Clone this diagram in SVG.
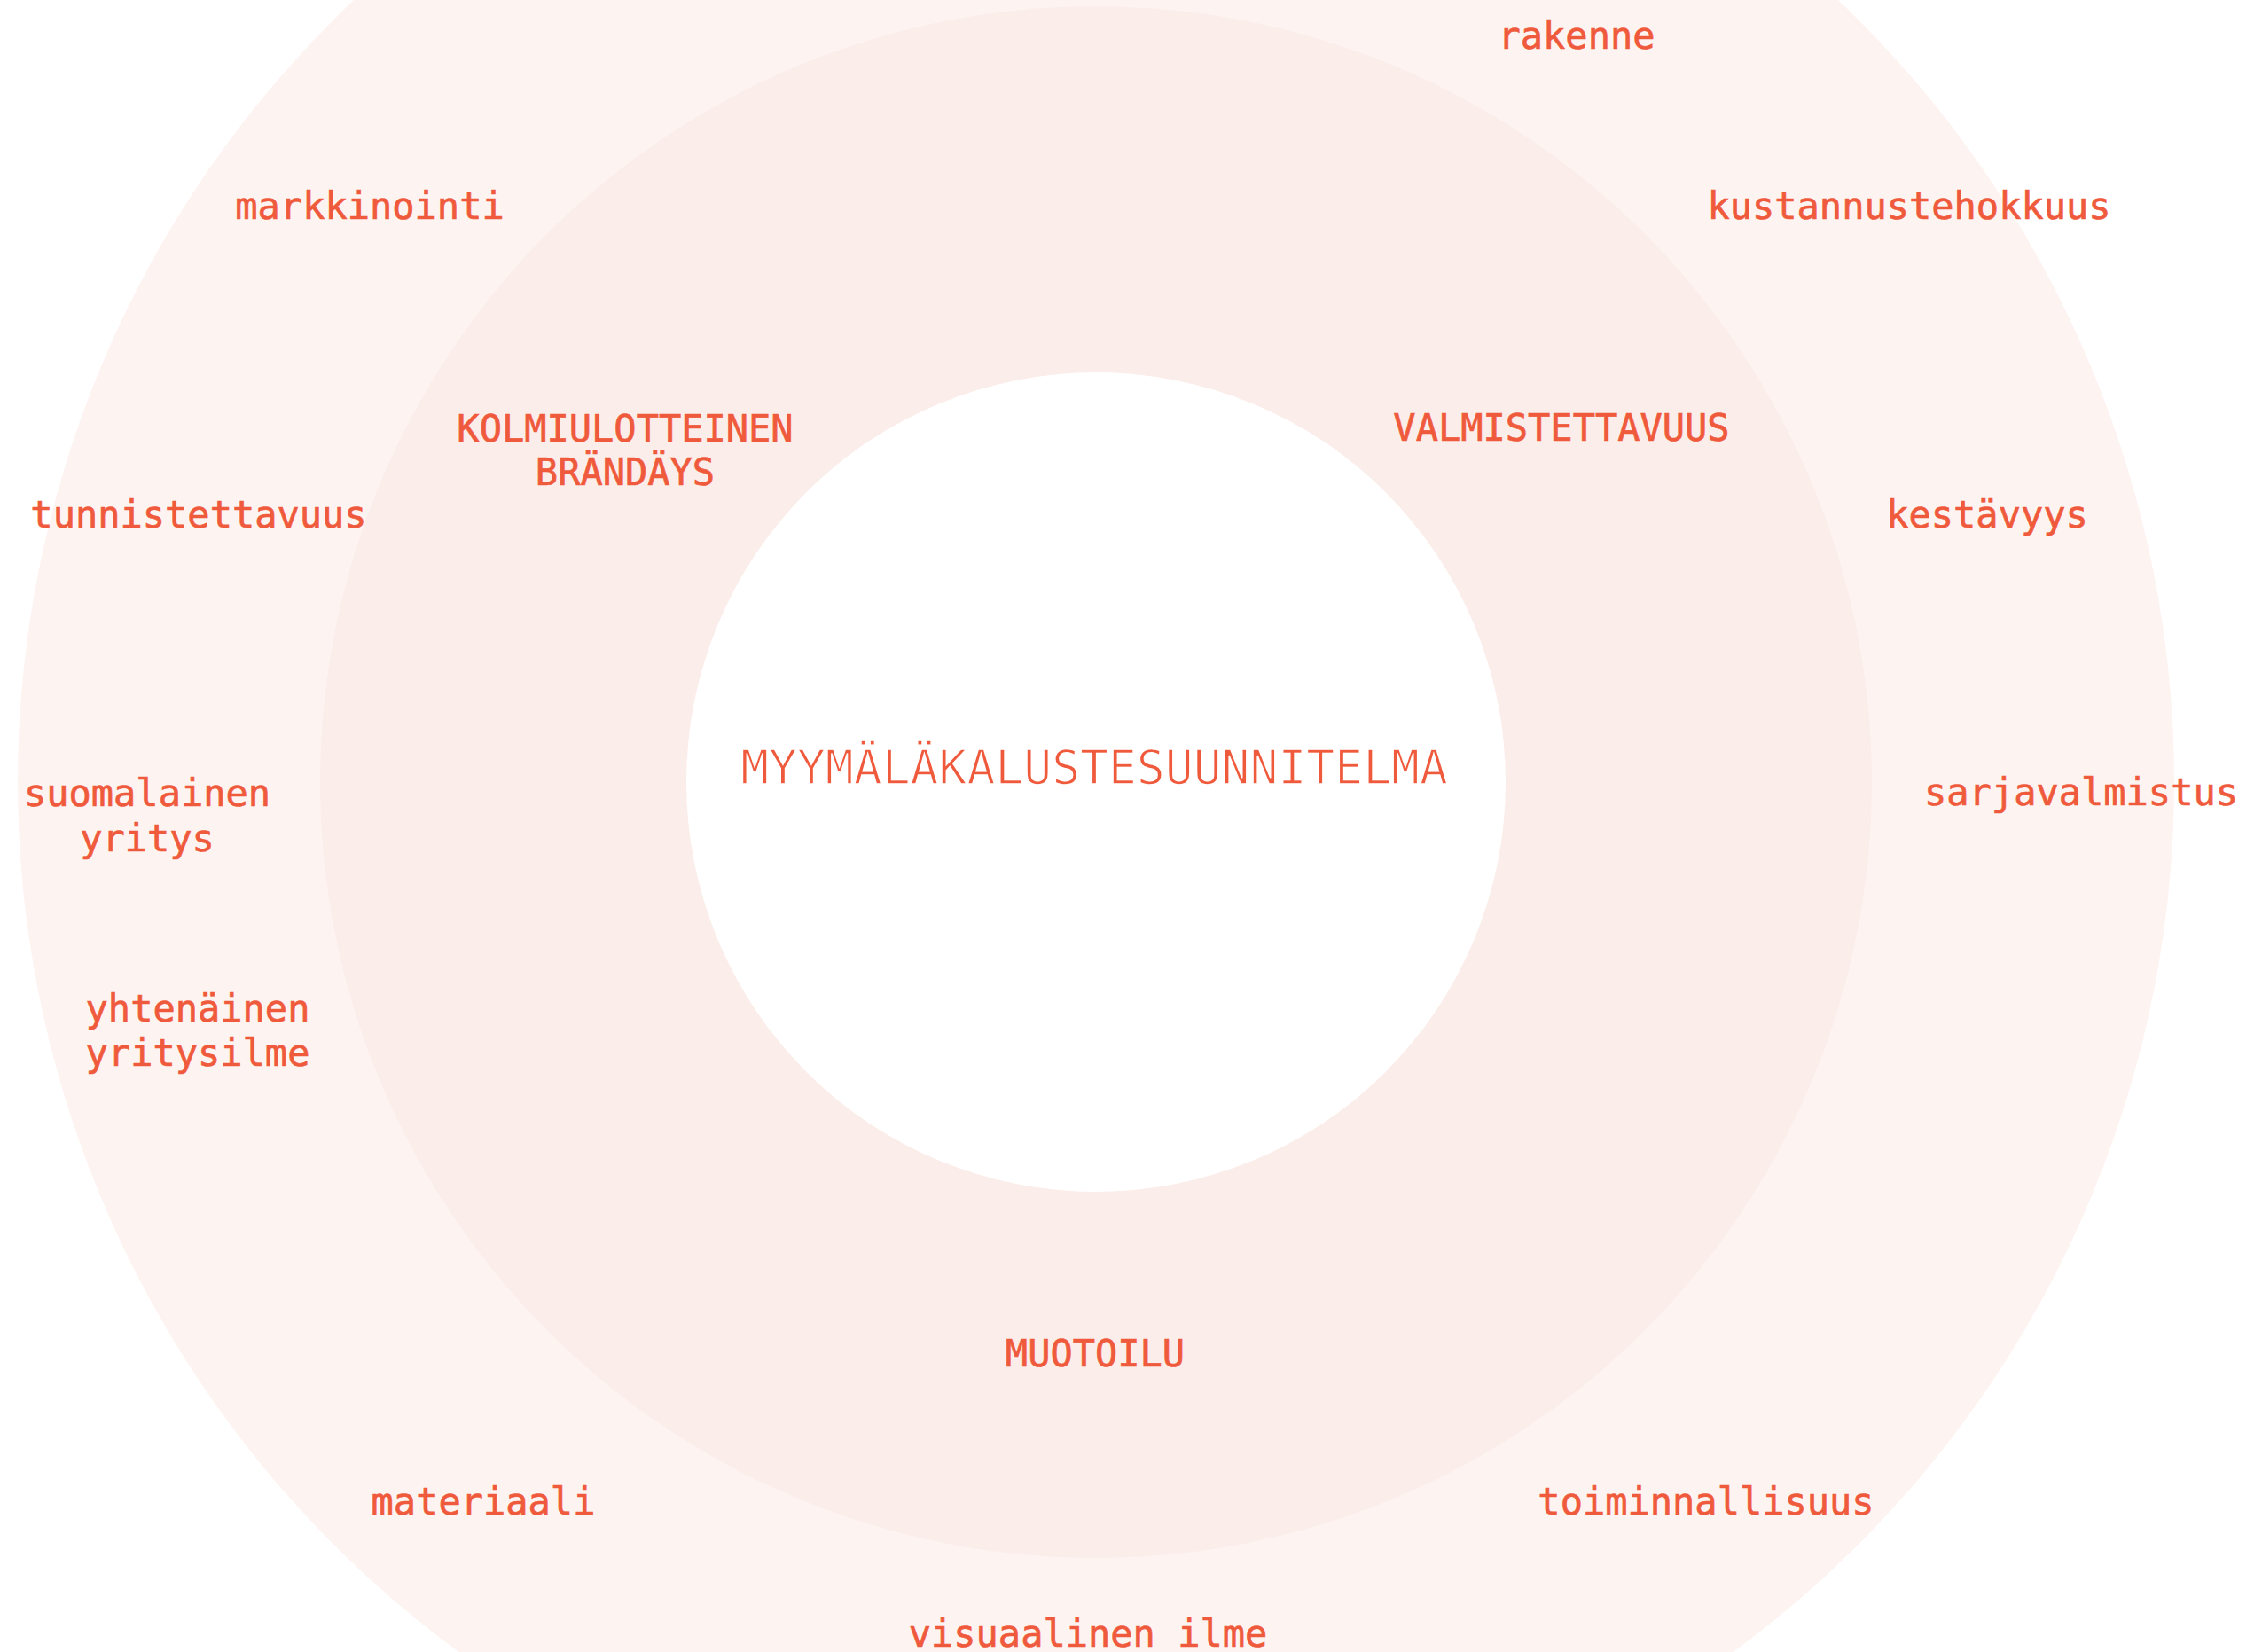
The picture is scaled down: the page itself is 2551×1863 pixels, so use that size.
<svg xmlns="http://www.w3.org/2000/svg" width="2551" height="1863" viewBox="0 0 2551 1863">
<style>
.t{font-family:"DejaVu Sans Mono","Liberation Mono",monospace;font-size:42px;fill:#F05A3C;stroke:#F05A3C;stroke-width:0.7px;text-anchor:middle}
.title{font-size:53px;stroke:#ffffff;stroke-width:1.4px}
</style>
<rect width="2551" height="1863" fill="#ffffff"/>
<g id="ring-outer"><circle cx="1236" cy="882" r="1216" fill="#FDF4F2"/></g>
<g id="ring-middle"><circle cx="1236" cy="882" r="875" fill="#FBEDEA"/></g>
<g id="core"><circle cx="1236" cy="882" r="462" fill="#ffffff"/></g>
<g id="connectors"></g>
<g id="center-label"><text class="t title" x="1234" y="884">MYYMÄLÄKALUSTESUUNNITELMA</text></g>
<g id="n-kolmiulotteinen"><text class="t" x="705" y="498">KOLMIULOTTEINEN</text><text class="t" x="705" y="547">BRÄNDÄYS</text></g>
<g id="n-valmistettavuus"><text class="t" x="1761" y="497">VALMISTETTAVUUS</text></g>
<g id="n-muotoilu"><text class="t" x="1235" y="1541">MUOTOILU</text></g>
<g id="n-rakenne"><text class="t" x="1778" y="55">rakenne</text></g>
<g id="n-markkinointi"><text class="t" x="417" y="247">markkinointi</text></g>
<g id="n-kustannustehokkuus"><text class="t" x="2153" y="247">kustannustehokkuus</text></g>
<g id="n-tunnistettavuus"><text class="t" x="224" y="595">tunnistettavuus</text></g>
<g id="n-kestavyys"><text class="t" x="2241" y="595">kestävyys</text></g>
<g id="n-suomalainen"><text class="t" x="166" y="909">suomalainen</text><text class="t" x="166" y="960">yritys</text></g>
<g id="n-sarjavalmistus"><text class="t" x="2347" y="908">sarjavalmistus</text></g>
<g id="n-yhtenainen"><text class="t" x="223" y="1152">yhtenäinen</text><text class="t" x="223" y="1202">yritysilme</text></g>
<g id="n-materiaali"><text class="t" x="545" y="1708">materiaali</text></g>
<g id="n-toiminnallisuus"><text class="t" x="1924" y="1708">toiminnallisuus</text></g>
<g id="n-visuaalinen"><text class="t" x="1227" y="1857">visuaalinen ilme</text></g>
</svg>
